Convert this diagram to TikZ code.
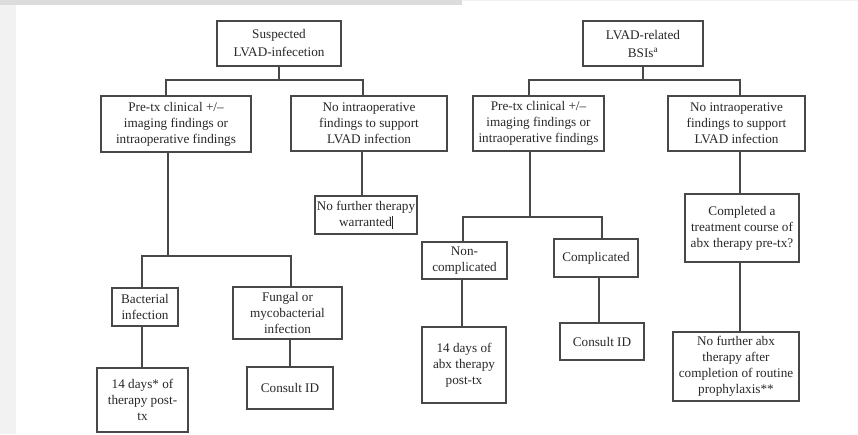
\documentclass[tikz,border=0pt]{standalone}
\usepackage{fontspec}
\setmainfont{Liberation Serif}
\usepackage{xcolor}
\usepackage{tikz}
\usetikzlibrary{calc}
\definecolor{ChartLine}{RGB}{72, 72, 72}
\definecolor{ChartText}{RGB}{40, 40, 40}
\definecolor{PageBand}{RGB}{220, 220, 220}
\definecolor{PageEdge}{RGB}{242, 242, 242}

\begin{document}
\begin{tikzpicture}[x=1pt,y=-1pt,
  flowbox/.style={draw=ChartLine, line width=1.4pt, fill=white, inner sep=0pt,
    align=center, text=ChartText, font=\fontsize{13.2}{16}\selectfont},
  link/.style={draw=ChartLine, line width=1.7pt}]
  \path[use as bounding box] (0,0) rectangle (858,434);
  \fill[white] (0,0) rectangle (858,434);
  \fill[PageBand] (0,0) rectangle (462,5);
  \fill[PageEdge] (462,0) rectangle (858,1.2);
  \fill[PageEdge] (0,5) rectangle (16,434);

  % Suspected infection tree
  \node[flowbox, minimum width=124pt, minimum height=45pt,
    font=\fontsize{13.2}{18}\selectfont] (susp) at (279,43.5) {Suspected\\LVAD-infecetion};
  \node[flowbox, minimum width=150pt, minimum height=56pt] (pretxL) at (176,124)
    {Pre-tx clinical +/--\\imaging findings or\\intraoperative findings};
  \node[flowbox, minimum width=156pt, minimum height=55pt] (nointraL) at (369,123.5)
    {No intraoperative\\findings to support\\LVAD infection};
  \node[flowbox, minimum width=102pt, minimum height=38pt] (nofurther) at (366,215)
    {No further therapy\\warranted\rule[-3pt]{0.9pt}{13pt}};
  \node[flowbox, minimum width=66pt, minimum height=38pt] (bact) at (145,307)
    {Bacterial\\infection};
  \node[flowbox, minimum width=109pt, minimum height=52pt] (fungal) at (287.5,313)
    {Fungal or\\mycobacterial\\infection};
  \node[flowbox, minimum width=91pt, minimum height=64pt] (daysL) at (142.5,400)
    {14 days* of\\therapy post-\\tx};
  \node[flowbox, minimum width=86pt, minimum height=42pt] (consultL) at (290,388)
    {Consult ID};

  \draw[link] (susp.south) -- ++(0,13) -| ([xshift=-10pt]pretxL.north);
  \draw[link] (susp.south) -- ++(0,13) -| ([xshift=-6pt]nointraL.north);
  \draw[link] ([xshift=-7pt]nointraL.south) -- ([xshift=-7pt]nointraL.south |- nofurther.north);
  \draw[link] ([xshift=-8pt]pretxL.south) -- ++(0,103) coordinate (splitL);
  \draw[link] (splitL) -| ([xshift=-3pt]bact.north);
  \draw[link] (splitL) -| ([xshift=3.5pt]fungal.north);
  \draw[link] ([xshift=-3pt]bact.south) -- ([xshift=-3pt]bact.south |- daysL.north);
  \draw[link] ([xshift=2.5pt]fungal.south) -- ([xshift=2.5pt]fungal.south |- consultL.north);

  % Bloodstream infection tree
  \node[flowbox, minimum width=120pt, minimum height=45pt,
    font=\fontsize{13.2}{18}\selectfont] (bsi) at (643,43.5) {LVAD-related\\BSIs\textsuperscript{a}};
  \node[flowbox, minimum width=131pt, minimum height=55pt] (pretxR) at (538.5,123.5)
    {Pre-tx clinical +/--\\imaging findings or\\intraoperative findings};
  \node[flowbox, minimum width=137pt, minimum height=55pt] (nointraR) at (736.5,123.5)
    {No intraoperative\\findings to support\\LVAD infection};
  \node[flowbox, minimum width=85pt, minimum height=37pt] (noncomp) at (464.5,260.5)
    {Non-\\complicated};
  \node[flowbox, minimum width=84pt, minimum height=38pt] (comp) at (596,258)
    {Complicated};
  \node[flowbox, minimum width=84pt, minimum height=76pt] (daysR) at (464,365)
    {14 days of\\abx therapy\\post-tx};
  \node[flowbox, minimum width=84pt, minimum height=37pt] (consultR) at (602,341.5)
    {Consult ID};
  \node[flowbox, minimum width=114pt, minimum height=68pt] (completed) at (742,228)
    {Completed a\\treatment course of\\abx therapy pre-tx?};
  \node[flowbox, minimum width=126pt, minimum height=69pt] (noabx) at (736,366.5)
    {No further abx\\therapy after\\completion of routine\\prophylaxis**};

  \draw[link] (bsi.south) -- ++(0,13) -| ([xshift=-9.5pt]pretxR.north);
  \draw[link] (bsi.south) -- ++(0,13) -| ([xshift=3.5pt]nointraR.north);
  \draw[link] ([xshift=-8.5pt]pretxR.south) -- ++(0,65) coordinate (splitR);
  \draw[link] (splitR) -| ([xshift=-1.5pt]noncomp.north);
  \draw[link] (splitR) -| ([xshift=6pt]comp.north);
  \draw[link] ([xshift=-2.5pt]noncomp.south) -- ([xshift=-2.5pt]noncomp.south |- daysR.north);
  \draw[link] ([xshift=3pt]comp.south) -- ([xshift=3pt]comp.south |- consultR.north);
  \draw[link] ([xshift=-2pt]completed.north |- nointraR.south) -- ([xshift=-2pt]completed.north);
  \draw[link] ([xshift=4pt]noabx.north |- completed.south) -- ([xshift=4pt]noabx.north);
\end{tikzpicture}
\end{document}
